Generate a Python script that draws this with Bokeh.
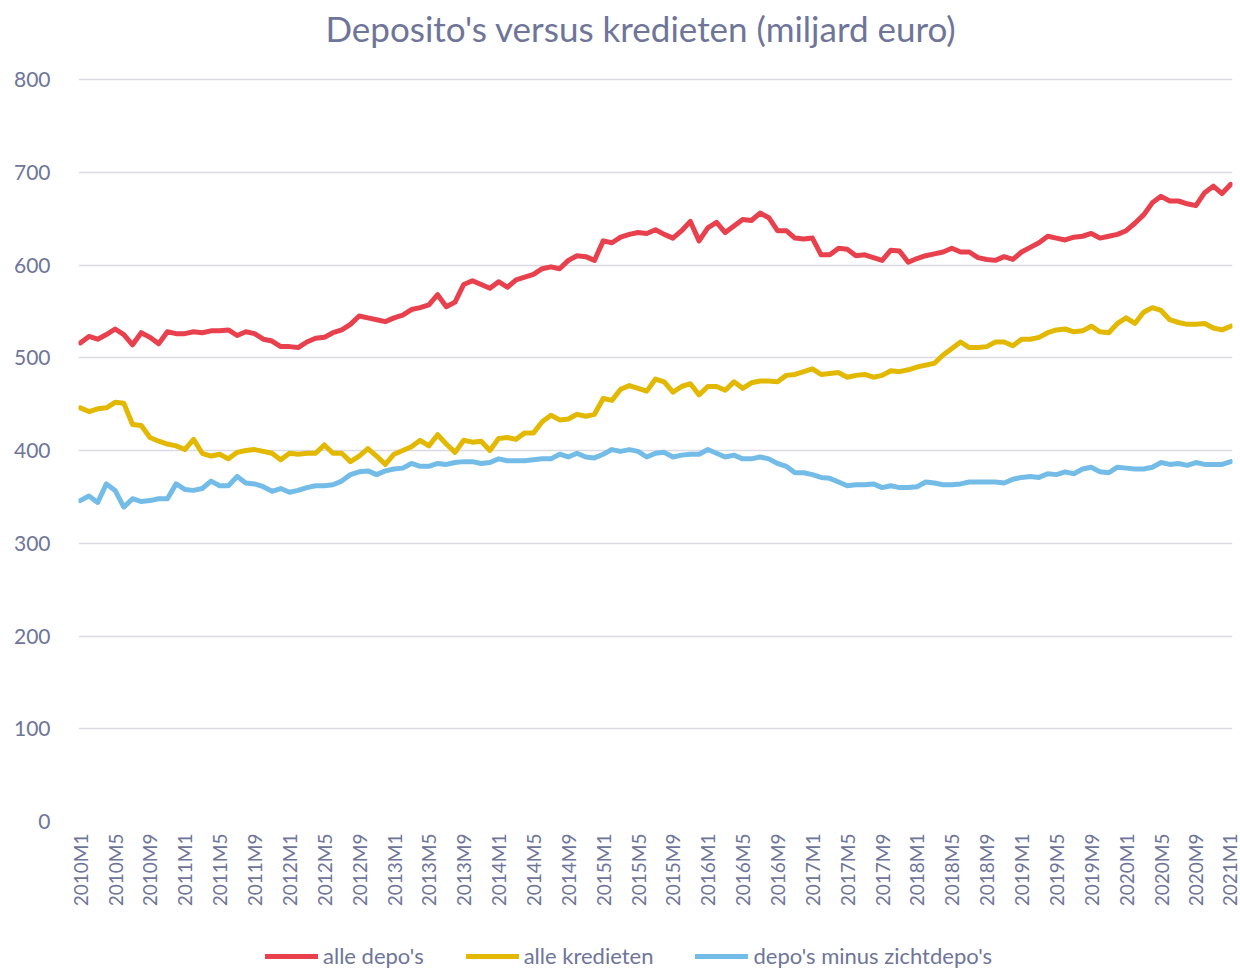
import math
from bokeh.plotting import figure
from bokeh.layouts import column
from bokeh.models import Range1d, FixedTicker, Legend, LegendItem, Label
from bokeh.embed import file_html
from bokeh.resources import INLINE

# ---- data (miljard euro), monthly 2010M1 .. 2021M1 ----
months = [f"{2010 + i // 12}M{i % 12 + 1}" for i in range(133)]

alle_depos = [
    516, 523, 520, 525, 531, 525, 514, 527, 522, 515, 528, 526,
    526, 528, 527, 529, 529, 530, 524, 528, 526, 520, 518, 512,
    512, 511, 517, 521, 522, 527, 530, 536, 545, 543, 541, 539,
    543, 546, 552, 554, 557, 568, 555, 560, 579, 583, 579, 575,
    582, 576, 584, 587, 590, 596, 598, 596, 605, 610, 609, 605,
    626, 624, 630, 633, 635, 634, 638, 633, 629, 637, 647, 626,
    640, 646, 635, 642, 649, 648, 656, 651, 637, 637, 629, 628,
    629, 611, 611, 618, 617, 610, 611, 608, 605, 616, 615, 603,
    607, 610, 612, 614, 618, 614, 614, 608, 606, 605, 609, 606,
    614, 619, 624, 631, 629, 627, 630, 631, 634, 629, 631, 633,
    637, 645, 654, 667, 674, 669, 669, 666, 664, 678, 685, 677,
    687,
]

alle_kredieten = [
    446, 442, 445, 446, 452, 451, 428, 427, 414, 410, 407, 405,
    401, 412, 397, 394, 396, 391, 398, 400, 401, 399, 397, 390,
    397, 396, 397, 397, 406, 397, 397, 388, 394, 402, 394, 385,
    396, 400, 404, 411, 405, 417, 407, 398, 411, 409, 410, 400,
    413, 414, 412, 419, 419, 431, 438, 433, 434, 439, 437, 439,
    456, 454, 466, 470, 467, 464, 477, 474, 463, 469, 472, 460,
    469, 469, 465, 474, 467, 473, 475, 475, 474, 481, 482, 485,
    488, 482, 483, 484, 479, 481, 482, 479, 481, 486, 485, 487,
    490, 492, 494, 503, 510, 517, 511, 511, 512, 517, 517, 513,
    520, 520, 522, 527, 530, 531, 528, 529, 534, 528, 527, 537,
    543, 537, 549, 554, 551, 541, 538, 536, 536, 537, 532, 530,
    534,
]

depos_min_zicht = [
    346, 351, 344, 364, 357, 339, 348, 345, 346, 348, 348, 364,
    358, 357, 359, 367, 362, 362, 372, 365, 364, 361, 356, 359,
    355, 357, 360, 362, 362, 363, 367, 374, 377, 378, 374, 378,
    380, 381, 386, 383, 383, 386, 385, 387, 388, 388, 386, 387,
    391, 389, 389, 389, 390, 391, 391, 396, 393, 397, 393, 392,
    396, 401, 399, 401, 399, 393, 397, 398, 393, 395, 396, 396,
    401, 397, 393, 395, 391, 391, 393, 391, 386, 383, 376, 376,
    374, 371, 370, 366, 362, 363, 363, 364, 360, 362, 360, 360,
    361, 366, 365, 363, 363, 364, 366, 366, 366, 366, 365, 369,
    371, 372, 371, 375, 374, 377, 375, 380, 382, 377, 376, 382,
    381, 380, 380, 382, 387, 385, 386, 384, 387, 385, 385, 385,
    388,
]

series_names = ["alle depo's", "alle kredieten", "depo's minus zichtdepo's"]
series_colors = ["#E8404D", "#E2B800", "#74BCE8"]
y_ticks = [0, 100, 200, 300, 400, 500, 600, 700, 800]
x_tick_idx = list(range(0, 133, 4))
title_text = "Deposito's versus  kredieten (miljard euro)"

TXT = "#6E7599"
FONT = "Lato"

x = list(range(len(months)))
all_series = [alle_depos, alle_kredieten, depos_min_zicht]

# frame reaches the top of the canvas; value 800 sits 79 px below it
Y_TOP = 800 * 821 / 742
MAIN_BOTTOM = 110
LEG_H = 969 - 821 - MAIN_BOTTOM

p = figure(
    width=1240, height=821 + MAIN_BOTTOM, frame_width=1154, frame_height=821,
    output_backend="svg", toolbar_location=None,
    x_range=Range1d(-0.2, 132.2), y_range=Range1d(0, Y_TOP),
    min_border_left=78, min_border_right=8, min_border_top=0,
    min_border_bottom=MAIN_BOTTOM,
)
p.title = None
p.outline_line_color = None
p.background_fill_color = "white"
p.border_fill_color = "white"

for vals, c in zip(all_series, series_colors):
    p.line(x, vals, line_color=c, line_width=5, line_join="round", line_cap="round")

# title (inside the frame, above the 800 line)
p.add_layout(Label(x=64.85, y=800 * (821 - 27) / 742, text=title_text,
                   text_align="center", text_baseline="middle", text_font=FONT,
                   text_font_size="35px", text_color=TXT))

# axes
p.xaxis.ticker = FixedTicker(ticks=x_tick_idx)
p.xaxis.major_label_overrides = {i: months[i] for i in x_tick_idx}
p.xaxis.major_label_orientation = math.pi / 2
p.xaxis.axis_line_color = None
p.xaxis.major_tick_line_color = None
p.xaxis.minor_tick_line_color = None
p.xaxis.major_tick_out = 0
p.xaxis.major_tick_in = 0
p.xaxis.major_label_standoff = 12
p.xaxis.major_label_text_font = FONT
p.xaxis.major_label_text_font_size = "19px"
p.xaxis.major_label_text_color = TXT

p.yaxis.ticker = FixedTicker(ticks=y_ticks)
p.yaxis.axis_line_color = None
p.yaxis.major_tick_line_color = None
p.yaxis.minor_tick_line_color = None
p.yaxis.major_tick_out = 0
p.yaxis.major_tick_in = 0
p.yaxis.major_label_standoff = 28
p.yaxis.major_label_text_font = FONT
p.yaxis.major_label_text_font_size = "21px"
p.yaxis.major_label_text_color = TXT

p.xgrid.grid_line_color = None
p.ygrid.grid_line_color = "#D9DAE2"
p.ygrid.grid_line_width = 1.5

# legend strip below the chart (its series lie outside its own ranges,
# so only the legend swatches show)
lg = figure(
    width=1240, height=LEG_H, output_backend="svg", toolbar_location=None,
    x_range=Range1d(-2, -1), y_range=Range1d(-2, -1),
    x_axis_type=None, y_axis_type=None,
    min_border_left=0, min_border_right=0, min_border_top=0, min_border_bottom=0,
)
lg.title = None
lg.outline_line_color = None
lg.xgrid.grid_line_color = None
lg.ygrid.grid_line_color = None
lg.background_fill_color = "white"
lg.border_fill_color = "white"
leg_renderers = [lg.line(x, vals, line_color=c, line_width=5, line_cap="round")
                 for vals, c in zip(all_series, series_colors)]
legend = Legend(
    items=[LegendItem(label=n, renderers=[r]) for n, r in zip(series_names, leg_renderers)],
    orientation="horizontal", location=(187, 0),
    glyph_width=53, glyph_height=22, label_standoff=5, spacing=42,
    label_text_font=FONT, label_text_font_size="22px", label_text_color=TXT,
    border_line_color=None, background_fill_alpha=0, padding=0, margin=0,
)
lg.add_layout(legend, "center")

layout = column(p, lg, spacing=0)
open("out.html", "w").write(file_html(layout, INLINE))
